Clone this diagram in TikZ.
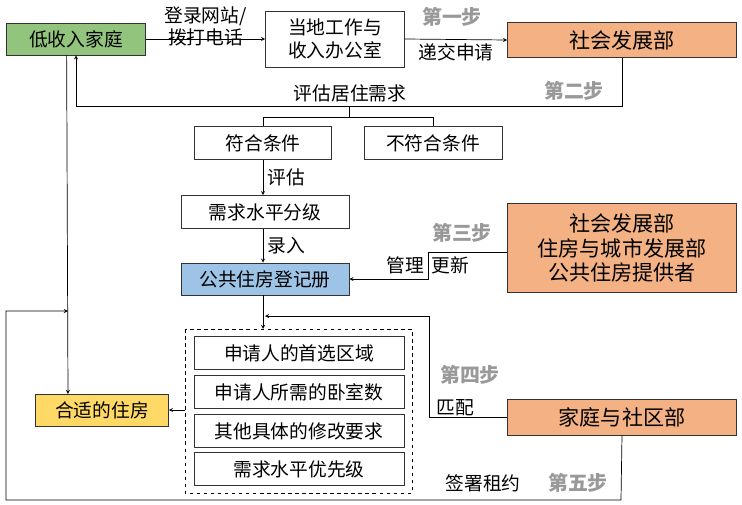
\documentclass[tikz,border=0pt]{standalone}
\usepackage{fontspec}
\setmainfont{Noto Sans CJK SC}
\usetikzlibrary{calc}

\begin{document}
\begin{tikzpicture}[
 x=0.03cm,
 y=-0.03cm,
 semithick,
 >={stealth},
 every node/.style={font=\fontsize{16}{19.5}\selectfont},
 box/.style={
  draw=black!80,
  rectangle,
  inner sep=0pt,
  align=center,
 },
 dept/.style={
  box,
  fill=orange!45!red!25!white,
  fill={rgb,255:red,244;green,177;blue,131},
  minimum width=6.87cm,
  font=\fontsize{18}{21}\selectfont,
 },
 step/.style={},
 steplabel/.style={
  text=black!40,
  font=\fontsize{17}{20}\selectfont\bfseries,
 },
 need/.style={
  box,
  minimum width=6.3cm,
  minimum height=0.97cm,
 }
]

\useasboundingbox (0,0) rectangle (742,505);

% top row
\node at (76,39) [box,minimum width=4.17cm,minimum height=0.96cm,fill={rgb,255:red,147;green,196;blue,125}] (family) {低收入家庭};
\node at (335,39) [box,minimum width=4.17cm,minimum height=1.68cm] (office) {当地工作与\\收入办公室};
\node at (622,40) [dept,minimum height=1.05cm] (social) {社会发展部};

\draw[->] (family.east) -- node[above,align=center,yshift=-10pt] {登录网站/\\拨打电话} (office.west);
\draw[->] (office.east) -- node[below] {递交申请} (social.west);
\node at (452,17) [steplabel] (stepA) {第一步};

% assessment
\coordinate (back) at (349,106);
\draw[->] (social.south) -- (622,106) -- (76,106) -- (family.south);
\node at (350,93) (assess) {评估居住需求};
\node at (574,91) [steplabel] (stepB) {第二步};

\node at (263,143) [box,minimum width=4.11cm,minimum height=0.99cm] (ok) {符合条件};
\node at (433,143) [box,minimum width=4.14cm,minimum height=0.99cm] (notok) {不符合条件};
\draw (back) -- (349,117);
\draw (263,117) -- (433,117);
\draw (ok.north) -- (263,117);
\draw (notok.north) -- (433,117);

\node at (265,212) [box,minimum width=5.04cm,minimum height=0.99cm] (level) {需求水平分级};
\draw[->] (ok.south) -- node[right] {评估} (level.north -| ok.south);

\node at (265,279) [box,minimum width=5.04cm,minimum height=0.96cm,fill={rgb,255:red,157;green,195;blue,230}] (register) {公共住房登记册};
\draw[->] (level.south -| ok.south) -- node[right] {录入} (register.north -| ok.south);

\node at (622,248) [dept,minimum height=2.67cm] (providers) {社会发展部\\住房与城市发展部\\公共住房提供者};
\node at (462,233) [steplabel] (stepC) {第三步};
\draw[->] (providers.west |- 0,252) -- (428,252) -- (428,279) -- (register.east);
\node at (405,265) (manage) {管理};
\node at (450,265) (update) {更新};

% needs
\draw[dashed,thin] (185,329) rectangle (412,493);
\node at (299,353) [need] (area) {申请人的首选区域};
\node at (299,392) [need] (rooms) {申请人所需的卧室数};
\node at (299,431) [need] (change) {其他具体的修改要求};
\node at (299,469) [need] (prior) {需求水平优先级};
\draw[->] (register.south -| ok.south) -- (263,329);

\node at (102,410) [box,minimum width=3.99cm,minimum height=0.96cm,fill={rgb,255:red,255;green,217;blue,102}] (housing) {合适的住房};
\draw[->] (185,410) -- (housing.east);
\draw[->] ([xshift=-8]family.south) -- (68,394);

% matching and lease
\node at (622,417) [dept,minimum height=1.08cm] (community) {家庭与社区部};
\draw[->] (community.west) -- (429,417) -- (429,316) -- (265,316);
\node at (455,408) (match) {匹配};
\node at (470,375) [steplabel] (stepD) {第四步};
\draw[->] (community.south) -- (621,500) -- (6,500) -- (6,311) -- (68,311);
\node at (483,483) (lease) {签署租约};
\node at (578,483) [steplabel] (stepE) {第五步};

\end{tikzpicture}
\end{document}
